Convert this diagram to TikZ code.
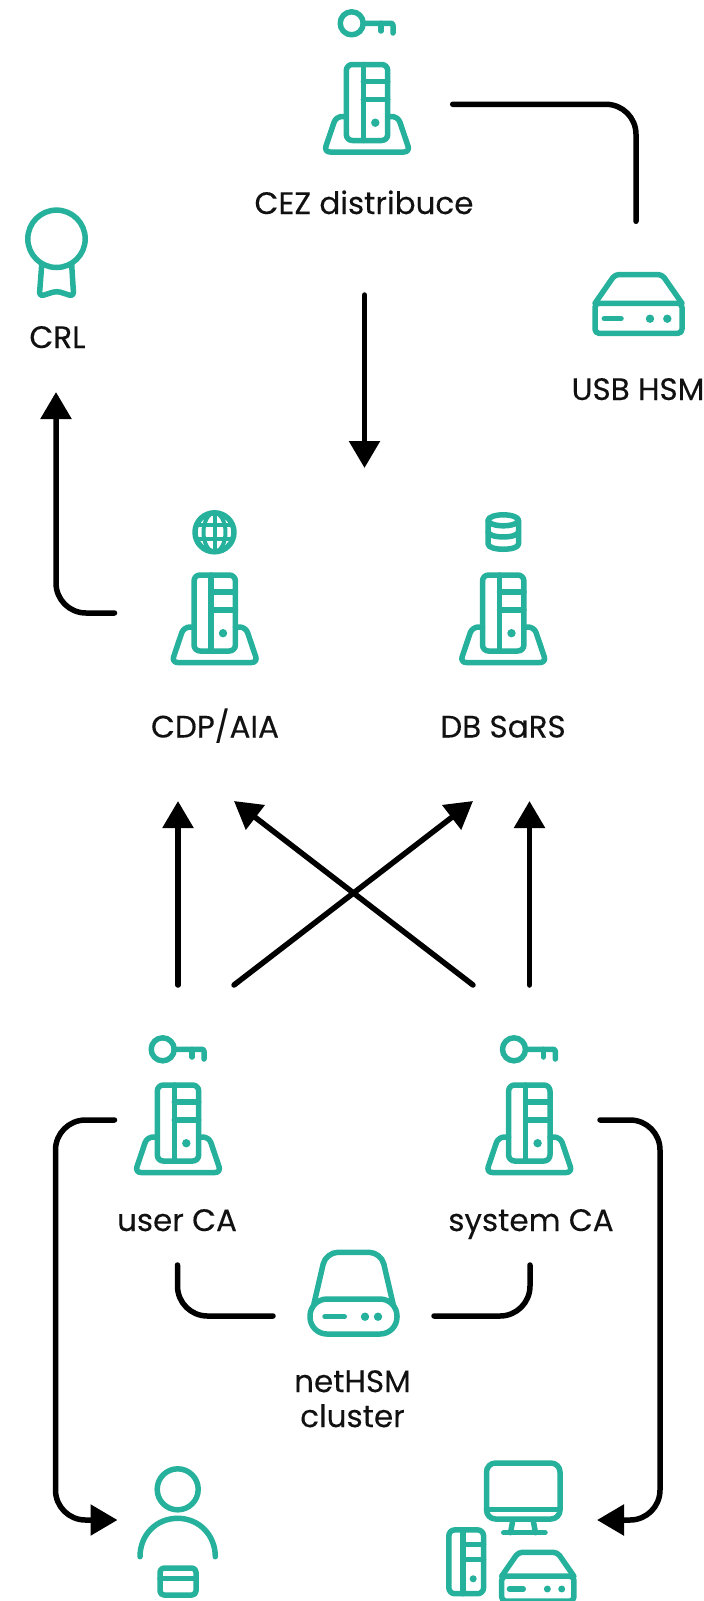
\documentclass[tikz,border=0pt]{standalone}
\usepackage{fontspec}
\setmainfont{Poppins}[FakeBold=0.2]
\usetikzlibrary{arrows.meta}

\definecolor{iconteal}{HTML}{25B19B}
\definecolor{labelink}{HTML}{111111}

\tikzset{
    icon/.style={draw=iconteal, line width=5.5pt, line cap=round, line join=round},
    dot/.style={fill=iconteal},
    link/.style={draw=black, line width=5.5pt, line cap=round, rounded corners=30pt},
    tip/.style={-{Triangle[width=30pt, length=27pt]}},
    label/.style={anchor=base, inner sep=0pt, text=labelink, font=\fontsize{31}{35}\selectfont, align=center},
    towerbody/.pic={
        \draw[icon, rounded corners=6pt] (-20.7,-38) rectangle (20.7,38);
        \draw[icon] (-3.7,-38) -- (-3.7,38);
        \draw[icon] (-3.7,-20.8) -- (20.7,-20.8);
        \draw[icon] (-3.7,-3) -- (20.7,-3);
        \fill[dot] (8.3,20.2) circle[radius=4.2];
    },
    server/.pic={
        \pic {towerbody};
        \draw[icon, rounded corners=6pt] (-20.7,14) -- (-31,14) -- (-43,49.5) -- (43,49.5) -- (31,14) -- (20.7,14);
    },
    keyicon/.pic={
        \draw[icon] (-15.3,0) circle[radius=11.5];
        \draw[icon, rounded corners=2pt] (-3.8,0) -- (26,0) -- (26,9.7);
        \draw[icon] (14,0) -- (14,7.7);
    },
    boxicon/.pic={
        \draw[icon, rounded corners=4pt] (-43.5,-1.7) rectangle (43.5,28.3);
        \draw[icon, rounded corners=4pt] (-43.5,-1.7) -- (-23.5,-30.5) -- (23.5,-30.5) -- (43.5,-1.7);
        \draw[icon] (-34.2,13.7) -- (-17.5,13.7);
        \fill[dot] (11.5,13.7) circle[radius=4.2];
        \fill[dot] (28.8,13.7) circle[radius=4.2];
    },
}

\begin{document}
\begin{tikzpicture}[x=1pt, y=-1pt]
    \useasboundingbox (0,0) rectangle (704,1601);

    % connector ends
    \coordinate (cezout) at (452.7,104.3);
    \coordinate (usbin) at (636,221.3);
    \coordinate (cezdown) at (364.5,295);
    \coordinate (webin) at (364.5,468);
    \coordinate (cdpout) at (114.5,613);
    \coordinate (crlin) at (56,392);
    \coordinate (userup) at (178,985);
    \coordinate (userdiag) at (234,985);
    \coordinate (systemup) at (529.5,985);
    \coordinate (systemdiag) at (473,985);
    \coordinate (cdpin) at (178,801);
    \coordinate (cdpdiag) at (234,801);
    \coordinate (dbin) at (529.5,801);
    \coordinate (dbdiag) at (473,801);
    \coordinate (userout) at (114.5,1120);
    \coordinate (personin) at (117.5,1520);
    \coordinate (systemout) at (600,1120);
    \coordinate (stationin) at (597,1520);
    \coordinate (userhsm) at (177.5,1265);
    \coordinate (hsmleft) at (273,1316);
    \coordinate (systemhsm) at (530,1265);
    \coordinate (hsmright) at (434,1316);

    % icons
    \pic at (367,23.3) {keyicon};
    \pic at (367,102.5) {server};
    \pic at (638.5,305) {boxicon};

    \draw[icon] (56.5,238.8) circle[radius=28.7];
    \draw[icon, rounded corners=4pt] (41.7,265) -- (39.3,296.5) -- (56.7,291) -- (73.7,296.5) -- (71.7,265);

    \draw[icon] (214.5,532.3) circle[radius=19.5];
    \draw[icon, line width=4pt] (214.5,532.3) ellipse[x radius=11, y radius=19.5];
    \draw[icon, line width=4pt] (214.5,512.8) -- (214.5,551.8);
    \draw[icon, line width=4pt] (197,525.3) -- (232,525.3);
    \draw[icon, line width=4pt] (197,539.3) -- (232,539.3);
    \pic at (214.7,613) {server};

    \draw[icon] (503.3,520.3) ellipse[x radius=15.2, y radius=5.5];
    \draw[icon] (488.1,520.3) -- (488.1,544) .. controls (488.1,551) and (518.5,551) .. (518.5,544) -- (518.5,520.3);
    \draw[icon] (488.1,531.7) .. controls (488.1,538.7) and (518.5,538.7) .. (518.5,531.7);
    \pic at (503.2,613) {server};

    \pic at (178,1049.3) {keyicon};
    \pic at (178,1123) {server};
    \pic at (529.3,1049.3) {keyicon};
    \pic at (529.3,1123) {server};

    \draw[icon, rounded corners=17pt] (310,1299) rectangle (397,1334);
    \draw[icon, rounded corners=12pt] (313.9,1304) -- (325.9,1252.3) -- (381.1,1252.3) -- (393.1,1304);
    \draw[icon] (325,1316.7) -- (344.3,1316.7);
    \fill[dot] (365,1316.7) circle[radius=4.2];
    \fill[dot] (378,1316.7) circle[radius=4.2];

    \draw[icon] (177.7,1489.3) circle[radius=20.5];
    \draw[icon] (140,1556.7) .. controls (140,1535) and (156,1518.3) .. (177.7,1518.3) .. controls (199,1518.3) and (215.3,1535) .. (215.3,1556.7);
    \draw[icon, rounded corners=4pt] (160,1568) rectangle (196,1595);
    \draw[icon] (160,1578.3) -- (196,1578.3);

    \draw[icon, rounded corners=9pt] (486.5,1463) rectangle (560,1519);
    \draw[icon] (486.5,1509.3) -- (560,1509.3);
    \draw[icon] (512.7,1521) -- (510.5,1532.7);
    \draw[icon] (533.3,1521) -- (535.5,1532.7);
    \draw[icon] (503.7,1532.7) -- (545,1532.7);
    \pic[scale=0.84] at (466.2,1561.8) {towerbody};
    \pic[scale=0.83] at (537.8,1577.6) {boxicon};

    % labels
    \node[label] (cez) at (364,214) {CEZ distribuce};
    \node[label] (usb) at (638,400) {USB HSM};
    \node[label] (crl) at (57.5,348) {CRL};
    \node[label] (cdp) at (215,737.5) {CDP/AIA};
    \node[label] (db) at (503,737.5) {DB SaRS};
    \node[label] (user) at (177,1231) {user CA};
    \node[label] (system) at (531,1231) {system CA};
    \node[label, anchor=north] (hsm) at (352.5,1370) {netHSM\\cluster};

    % connectors
    \draw[link] (cezout) -| (usbin);
    \draw[link, tip] (cezdown) -- (webin);
    \draw[link, tip] (cdpout) -| (crlin);
    \draw[link, tip] (userup) -- (cdpin);
    \draw[link, tip] (systemup) -- (dbin);
    \draw[link, tip] (userdiag) -- (dbdiag);
    \draw[link, tip] (systemdiag) -- (cdpdiag);
    \draw[link, tip] (userout) -- (55.5,1120) |- (personin);
    \draw[link, tip] (systemout) -- (660,1120) |- (stationin);
    \draw[link] (userhsm) |- (hsmleft);
    \draw[link] (systemhsm) |- (hsmright);
\end{tikzpicture}
\end{document}
